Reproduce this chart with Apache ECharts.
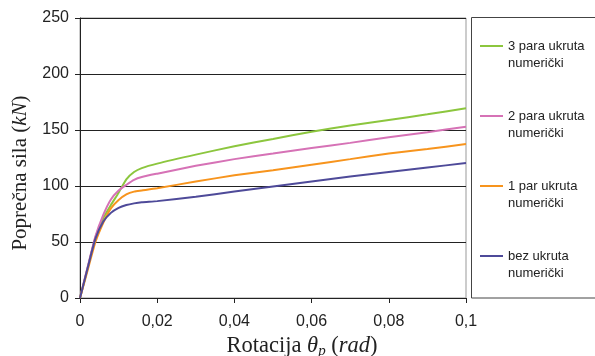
<!DOCTYPE html>
<html><head><meta charset="utf-8">
<script src="https://cdn.jsdelivr.net/npm/echarts@6/dist/echarts.min.js"></script>
<style>html,body{margin:0;padding:0;background:#fff}#c{width:595px;height:356px}</style>
</head><body><div id="c"></div>
<script>
const rotation = [0, 0.002, 0.004, 0.006, 0.008, 0.010, 0.012, 0.014, 0.016, 0.02, 0.03, 0.04, 0.05, 0.06, 0.07, 0.08, 0.09, 0.1];
const green3 = [0, 27, 54, 71, 83, 94, 106, 112.5, 116, 120, 128, 135.5, 142, 148.5, 154, 159, 164, 169.5];
const pink2  = [0, 28, 55, 74, 88, 96, 101, 105.5, 108, 111, 118, 124, 129, 134, 138.5, 143.5, 148, 153];
const orange1= [0, 25, 50, 67, 80, 87.5, 92.5, 95, 96, 98, 104, 109.5, 114, 119, 124, 129, 133, 137.5];
const blue0  = [0, 27, 53, 68, 76, 80.5, 83, 84.5, 85.5, 86.5, 90.5, 95, 99.5, 104, 108.5, 112.5, 116.5, 120.5];
const seriesNames = ['3 para ukruta\nnumerički', '2 para ukruta\nnumerički', '1 par ukruta\nnumerički', 'bez ukruta\nnumerički'];
const seriesValues = [green3, pink2, orange1, blue0];
const colors = ['#8cc63e', '#d672b6', '#f7941d', '#4e4a99'];
const xTicks = [0, 0.02, 0.04, 0.06, 0.08, 0.1];
const yTicks = [0, 50, 100, 150, 200, 250];

const chart = echarts.init(document.getElementById('c'), null, {renderer: 'canvas'});
const series = seriesNames.map((n, i) => ({
  name: n, type: 'line', showSymbol: false, smooth: 0.2,
  lineStyle: {width: 2, color: colors[i]}, itemStyle: {color: colors[i]},
  data: rotation.map((x, j) => [x, seriesValues[i][j]])
}));
chart.setOption({
  animation: false,
  grid: {left: 80, top: 18, right: 129, bottom: 58, show: true, borderColor: '#999', borderWidth: 1,
         containLabel: false, outerBoundsMode: 'none'},
  xAxis: {
    type: 'value', min: 0, max: 0.1, interval: 0.02,
    axisLine: {lineStyle: {color: '#222', width: 1}},
    axisTick: {show: true, length: 5, lineStyle: {color: '#222'}},
    splitLine: {show: false},
    axisLabel: {margin: 16, fontFamily: 'Liberation Sans', fontSize: 16, color: '#222',
      formatter: v => { const t = xTicks.find(k => Math.abs(k - v) < 1e-9); return String(t !== undefined ? t : v).replace('.', ','); }},
    name: '{a|Rotacija }{i|θ}{s|p}{a| (}{i|rad}{a|)}', nameLocation: 'middle', nameGap: 34,
    nameTextStyle: {padding: [0, 0, 0, 58], rich: {
      a: {fontFamily: 'Liberation Serif', fontSize: 22.5, color: '#222'},
      i: {fontFamily: 'Liberation Serif', fontSize: 22.5, fontStyle: 'italic', color: '#222'},
      s: {fontFamily: 'Liberation Serif', fontSize: 15, fontStyle: 'italic', color: '#222', verticalAlign: 'bottom', padding: [10, 0, 0, 0]}
    }}
  },
  yAxis: {
    type: 'value', min: 0, max: 250, interval: 50,
    axisLine: {show: true, lineStyle: {color: '#222', width: 1}},
    axisTick: {show: true, length: 5, lineStyle: {color: '#222'}},
    splitLine: {show: true, lineStyle: {color: '#222', width: 1}},
    axisLabel: {margin: 11, fontFamily: 'Liberation Sans', fontSize: 16, color: '#222'},
    name: '{a|Poprečna sila (}{i|kN}{a|)}', nameLocation: 'middle', nameGap: 49, nameRotate: 90,
    nameTextStyle: {padding: [0, 30, 0, 0], rich: {
      a: {fontFamily: 'Liberation Serif', fontSize: 21, color: '#222'},
      i: {fontFamily: 'Liberation Serif', fontSize: 21, fontStyle: 'italic', color: '#222'}
    }}
  },
  legend: {
    orient: 'vertical', left: 480, top: 20.5, padding: 0, itemGap: 19,
    icon: 'rect', itemWidth: 23, itemHeight: 2,
    data: seriesNames,
    formatter: n => '\n' + n,
    textStyle: {fontFamily: 'Liberation Sans', fontSize: 13, color: '#222', lineHeight: 17}
  },
  graphic: [{type: 'rect', shape: {x: 471.5, y: 17.5, width: 140, height: 280.5}, style: {fill: null, stroke: '#444', lineWidth: 1}, silent: true}],
  series: series
});
</script></body></html>
